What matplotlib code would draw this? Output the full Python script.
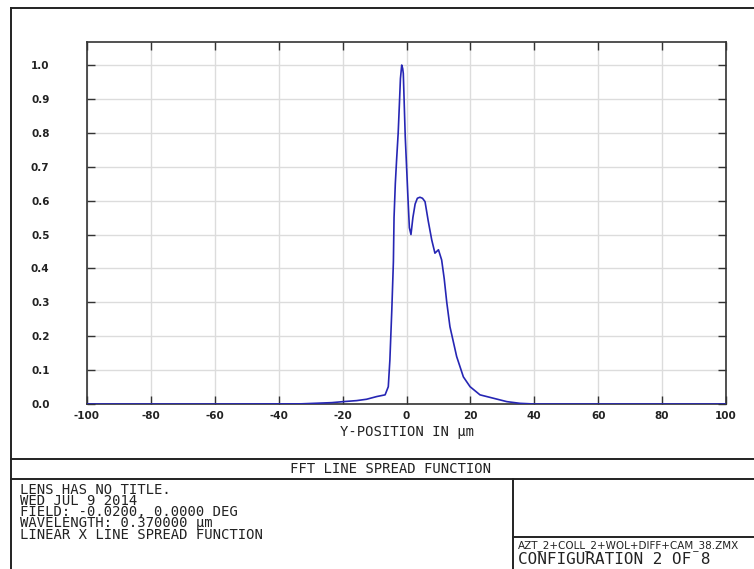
import matplotlib.pyplot as plt
from matplotlib.lines import Line2D
import numpy as np

# line spread function (position in um, relative intensity)
pos = [-100, -60, -33, -23.4, -19.8, -15.6, -12.5, -9.3, -6.7, -5.7, -5.2, -4.6,
       -4.1, -3.9, -3.5, -3.1, -2.6, -2.2, -1.9, -1.5, -1.2, -1.0, -0.4, 0.4, 0.9, 1.4,
       2.0, 2.7, 3.4, 4.2, 5.0, 5.8, 6.8, 7.9, 8.9, 10.0, 11.0, 11.8, 12.6, 13.6,
       15.7, 17.8, 19.9, 23.0, 27.2, 31.4, 35.5, 40, 60, 100]
lsf = [0.0, 0.0, 0.0005, 0.004, 0.007, 0.010, 0.014, 0.022, 0.027, 0.051, 0.13, 0.277,
       0.42, 0.55, 0.65, 0.72, 0.80, 0.89, 0.96, 1.0, 0.99, 0.975, 0.79, 0.62, 0.52, 0.50,
       0.55, 0.59, 0.607, 0.61, 0.607, 0.597, 0.54, 0.484, 0.445, 0.455, 0.425, 0.37, 0.30, 0.228,
       0.14, 0.08, 0.051, 0.027, 0.017, 0.007, 0.002, 0.0, 0.0, 0.0]

xticks = np.arange(-100, 101, 20)
yticks = np.arange(0, 1.01, 0.1)

info_lines = ["LENS HAS NO TITLE.",
              "WED JUL 9 2014",
              "FIELD: -0.0200, 0.0000 DEG",
              "WAVELENGTH: 0.370000 \u00b5m",
              "LINEAR X LINE SPREAD FUNCTION"]
title = "FFT LINE SPREAD FUNCTION"
file_name = "AZT_2+COLL_2+WOL+DIFF+CAM_38.ZMX"
config = "CONFIGURATION 2 OF 8"

W, H = 754, 569
fig = plt.figure(figsize=(W / 100, H / 100), dpi=100)

narrow = ['Liberation Sans Narrow', 'DejaVu Sans']
mono = ['DejaVu Sans Mono']

def fx(px):
    return px / W

def fy(py):
    return 1 - py / H

ax = fig.add_axes([fx(87), fy(404), (726 - 87) / W, (404 - 42) / H])
ax.plot(pos, lsf, color='#2626b4', lw=1.2, zorder=3)
ax.set_xlim(-100, 100)
ax.set_ylim(0, 1.068)
ax.set_xticks(xticks)
ax.set_yticks(yticks)
ax.set_xticklabels(['%d' % v for v in xticks], family=narrow, fontsize=7.5, weight='bold', color='#222')
ax.set_yticklabels(['%.1f' % v for v in yticks], family=narrow, fontsize=7.5, weight='bold', color='#222')
ax.tick_params(direction='in', length=6, width=1, color='#333', top=True, right=True)
ax.tick_params(axis='y', pad=27)
ax.tick_params(axis='x', pad=5)
ax.grid(True, color='#dcdcdc', lw=1)
for s in ax.spines.values():
    s.set_color('#333')
    s.set_linewidth(1.2)
ax.set_xlabel("Y-POSITION IN \u00b5m", family=mono, fontsize=10, color='#222', labelpad=3)

# frame and boxes round the plot (figure pixels)
def hline(y, x0, x1):
    fig.add_artist(Line2D([fx(x0), fx(x1)], [fy(y), fy(y)], color='#222', lw=1.4))

def vline(x, y0, y1):
    fig.add_artist(Line2D([fx(x), fx(x)], [fy(y0), fy(y1)], color='#222', lw=1.4))

hline(8, 11, 770)
vline(11, 8, 575)
hline(459, 11, 770)
hline(479, 11, 770)
vline(513, 479, 575)
hline(537, 513, 770)

fig.text(fx(390), fy(469), title, family=mono, fontsize=10, color='#222', ha='center', va='center')
fig.text(fx(20), fy(483), '\n'.join(info_lines), family=mono, fontsize=10,
         color='#222', ha='left', va='top', linespacing=0.74)
fig.text(fx(518), fy(546), file_name, family=narrow, fontsize=7.5, color='#222', ha='left', va='center')
fig.text(fx(518), fy(560), config, family=mono, fontsize=11.5, color='#222', ha='left', va='center')

fig.savefig('out.png', dpi=100)
